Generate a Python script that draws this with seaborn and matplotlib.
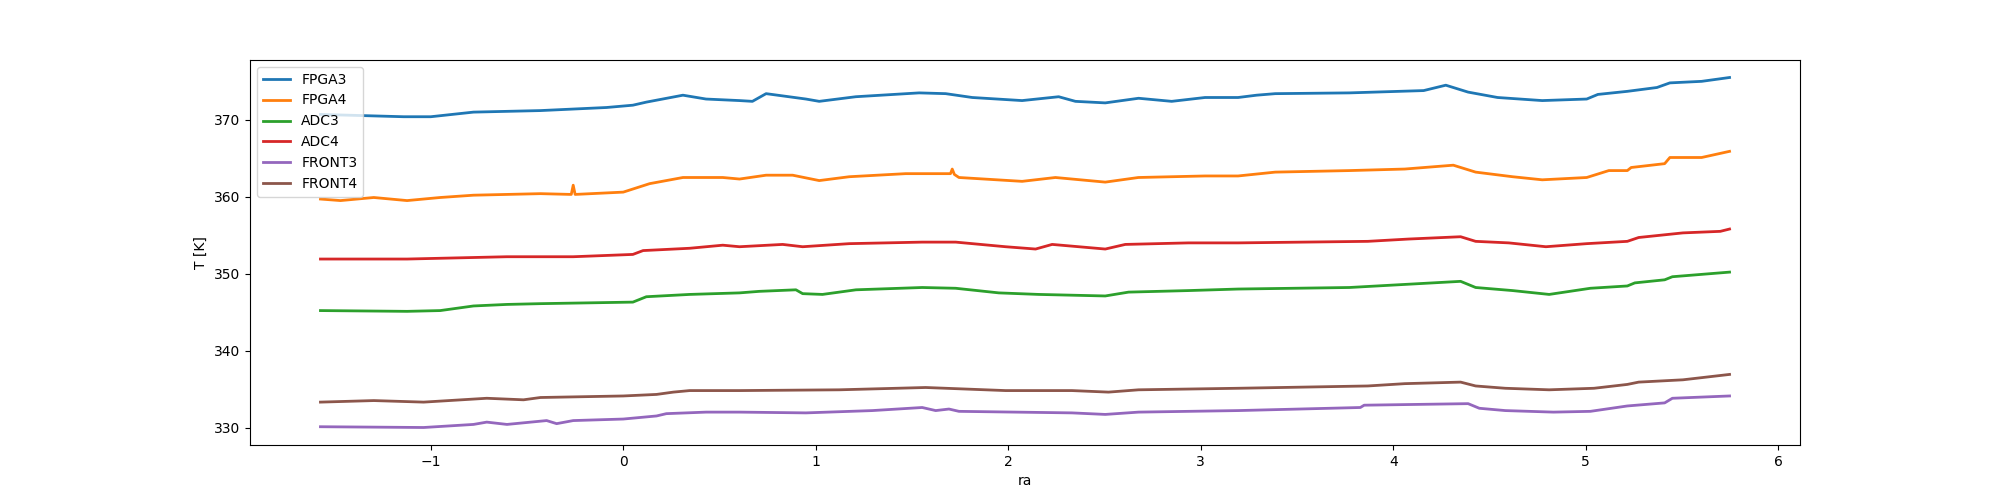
import matplotlib
matplotlib.use("Agg")
import matplotlib.pyplot as plt
import seaborn as sns

# readings per sensor, ra vs temperature [K]
fpga3_ra = [-1.573, -1.141, -1.0, -0.778, -0.43, -0.087, 0.05, 0.12, 0.31, 0.43, 0.604, 0.671, 0.742,
            0.949, 1.018, 1.208, 1.537, 1.675, 1.813, 2.072, 2.262, 2.349, 2.504, 2.677, 2.849, 3.022,
            3.194, 3.29, 3.387, 3.772, 4.158, 4.273, 4.389, 4.542, 4.774, 5.005, 5.063, 5.216, 5.37,
            5.437, 5.602, 5.747]
fpga3_t = [370.7, 370.4, 370.4, 371.0, 371.2, 371.6, 371.9, 372.3, 373.2, 372.7, 372.5, 372.4, 373.4,
           372.7, 372.4, 373.0, 373.5, 373.4, 372.9, 372.5, 373.0, 372.4, 372.2, 372.8, 372.4, 372.9,
           372.9, 373.2, 373.4, 373.5, 373.8, 374.5, 373.6, 372.9, 372.5, 372.7, 373.3, 373.7, 374.2,
           374.8, 375.0, 375.5]

fpga4_ra = [-1.573, -1.469, -1.296, -1.123, -0.951, -0.778, -0.604, -0.43, -0.27, -0.26, -0.25, 0.0,
            0.137, 0.31, 0.517, 0.604, 0.742, 0.88, 1.018, 1.174, 1.467, 1.70, 1.709, 1.72, 1.744,
            2.072, 2.245, 2.504, 2.676, 3.022, 3.194, 3.387, 3.772, 4.06, 4.312, 4.428, 4.62, 4.774,
            5.005, 5.12, 5.216, 5.236, 5.41, 5.437, 5.602, 5.747]
fpga4_t = [359.7, 359.5, 359.9, 359.5, 359.9, 360.2, 360.3, 360.4, 360.3, 361.5, 360.3, 360.6,
           361.7, 362.5, 362.5, 362.3, 362.8, 362.8, 362.1, 362.6, 363.0, 363.0, 363.6, 362.9, 362.5,
           362.0, 362.5, 361.9, 362.5, 362.7, 362.7, 363.2, 363.4, 363.6, 364.1, 363.2, 362.6, 362.2,
           362.5, 363.4, 363.4, 363.8, 364.3, 365.1, 365.1, 365.9]

adc3_ra = [-1.573, -1.123, -0.951, -0.778, -0.604, -0.43, 0.05, 0.12, 0.345, 0.604, 0.707,
           0.897, 0.932, 1.035, 1.209, 1.553, 1.727, 1.951, 2.158, 2.504, 2.625, 2.936, 3.194, 3.772,
           4.06, 4.35, 4.428, 4.62, 4.81, 5.024, 5.216, 5.255, 5.41, 5.45, 5.747]
adc3_t = [345.2, 345.1, 345.2, 345.8, 346.0, 346.1, 346.3, 347.0, 347.3, 347.5, 347.7,
          347.9, 347.4, 347.3, 347.9, 348.2, 348.1, 347.5, 347.3, 347.1, 347.6, 347.8, 348.0, 348.2,
          348.6, 349.0, 348.2, 347.8, 347.3, 348.1, 348.4, 348.8, 349.2, 349.6, 350.2]

adc4_ra = [-1.573, -1.123, -0.604, -0.26, 0.05, 0.103, 0.345, 0.517, 0.604, 0.828, 0.932, 1.174,
           1.553, 1.727, 1.986, 2.142, 2.228, 2.504, 2.608, 2.936, 3.194, 3.868, 4.08, 4.35, 4.428,
           4.6, 4.793, 5.005, 5.216, 5.275, 5.505, 5.699, 5.747]
adc4_t = [351.9, 351.9, 352.2, 352.2, 352.5, 353.0, 353.3, 353.7, 353.5, 353.8, 353.5, 353.9,
          354.1, 354.1, 353.5, 353.2, 353.8, 353.2, 353.8, 354.0, 354.0, 354.2, 354.5, 354.8, 354.2,
          354.0, 353.5, 353.9, 354.2, 354.7, 355.3, 355.5, 355.8]

front3_ra = [-1.573, -1.037, -0.778, -0.709, -0.604, -0.398, -0.346, -0.26, 0.0, 0.173, 0.224, 0.431,
             0.604, 0.949, 1.294, 1.553, 1.623, 1.692, 1.744, 2.331, 2.504, 2.677, 3.194, 3.829, 3.849,
             4.389, 4.447, 4.582, 4.832, 5.024, 5.216, 5.41, 5.45, 5.747]
front3_t = [330.1, 330.0, 330.4, 330.7, 330.4, 330.9, 330.5, 330.9, 331.1, 331.5, 331.8, 332.0,
            332.0, 331.9, 332.2, 332.6, 332.2, 332.4, 332.1, 331.9, 331.7, 332.0, 332.2, 332.6, 332.9,
            333.1, 332.5, 332.2, 332.0, 332.1, 332.8, 333.2, 333.8, 334.1]

front4_ra = [-1.573, -1.296, -1.037, -0.709, -0.518, -0.43, 0.0, 0.173, 0.26, 0.345, 0.604, 1.122,
             1.571, 1.986, 2.331, 2.521, 2.677, 3.194, 3.868, 4.06, 4.35, 4.428, 4.582, 4.81, 5.043,
             5.216, 5.275, 5.505, 5.747]
front4_t = [333.3, 333.5, 333.3, 333.8, 333.6, 333.9, 334.1, 334.3, 334.6, 334.8, 334.8, 334.9,
            335.2, 334.8, 334.8, 334.6, 334.9, 335.1, 335.4, 335.7, 335.9, 335.4, 335.1, 334.9, 335.1,
            335.6, 335.9, 336.2, 336.9]

names = ['FPGA3', 'FPGA4', 'ADC3', 'ADC4', 'FRONT3', 'FRONT4']
series = [(fpga3_ra, fpga3_t), (fpga4_ra, fpga4_t), (adc3_ra, adc3_t),
          (adc4_ra, adc4_t), (front3_ra, front3_t), (front4_ra, front4_t)]

colors = sns.color_palette('tab10')

fig, ax = plt.subplots(figsize=(20, 5), dpi=100)
for i, (name, (ra, t)) in enumerate(zip(names, series)):
    sns.lineplot(x=ra, y=t, ax=ax, color=colors[i], label=name,
                 estimator=None, sort=False, linewidth=2)

ax.set_xlabel('ra')
ax.set_ylabel('T [K]')
ax.legend(loc='upper left')

fig.savefig('out.png', dpi=100)
